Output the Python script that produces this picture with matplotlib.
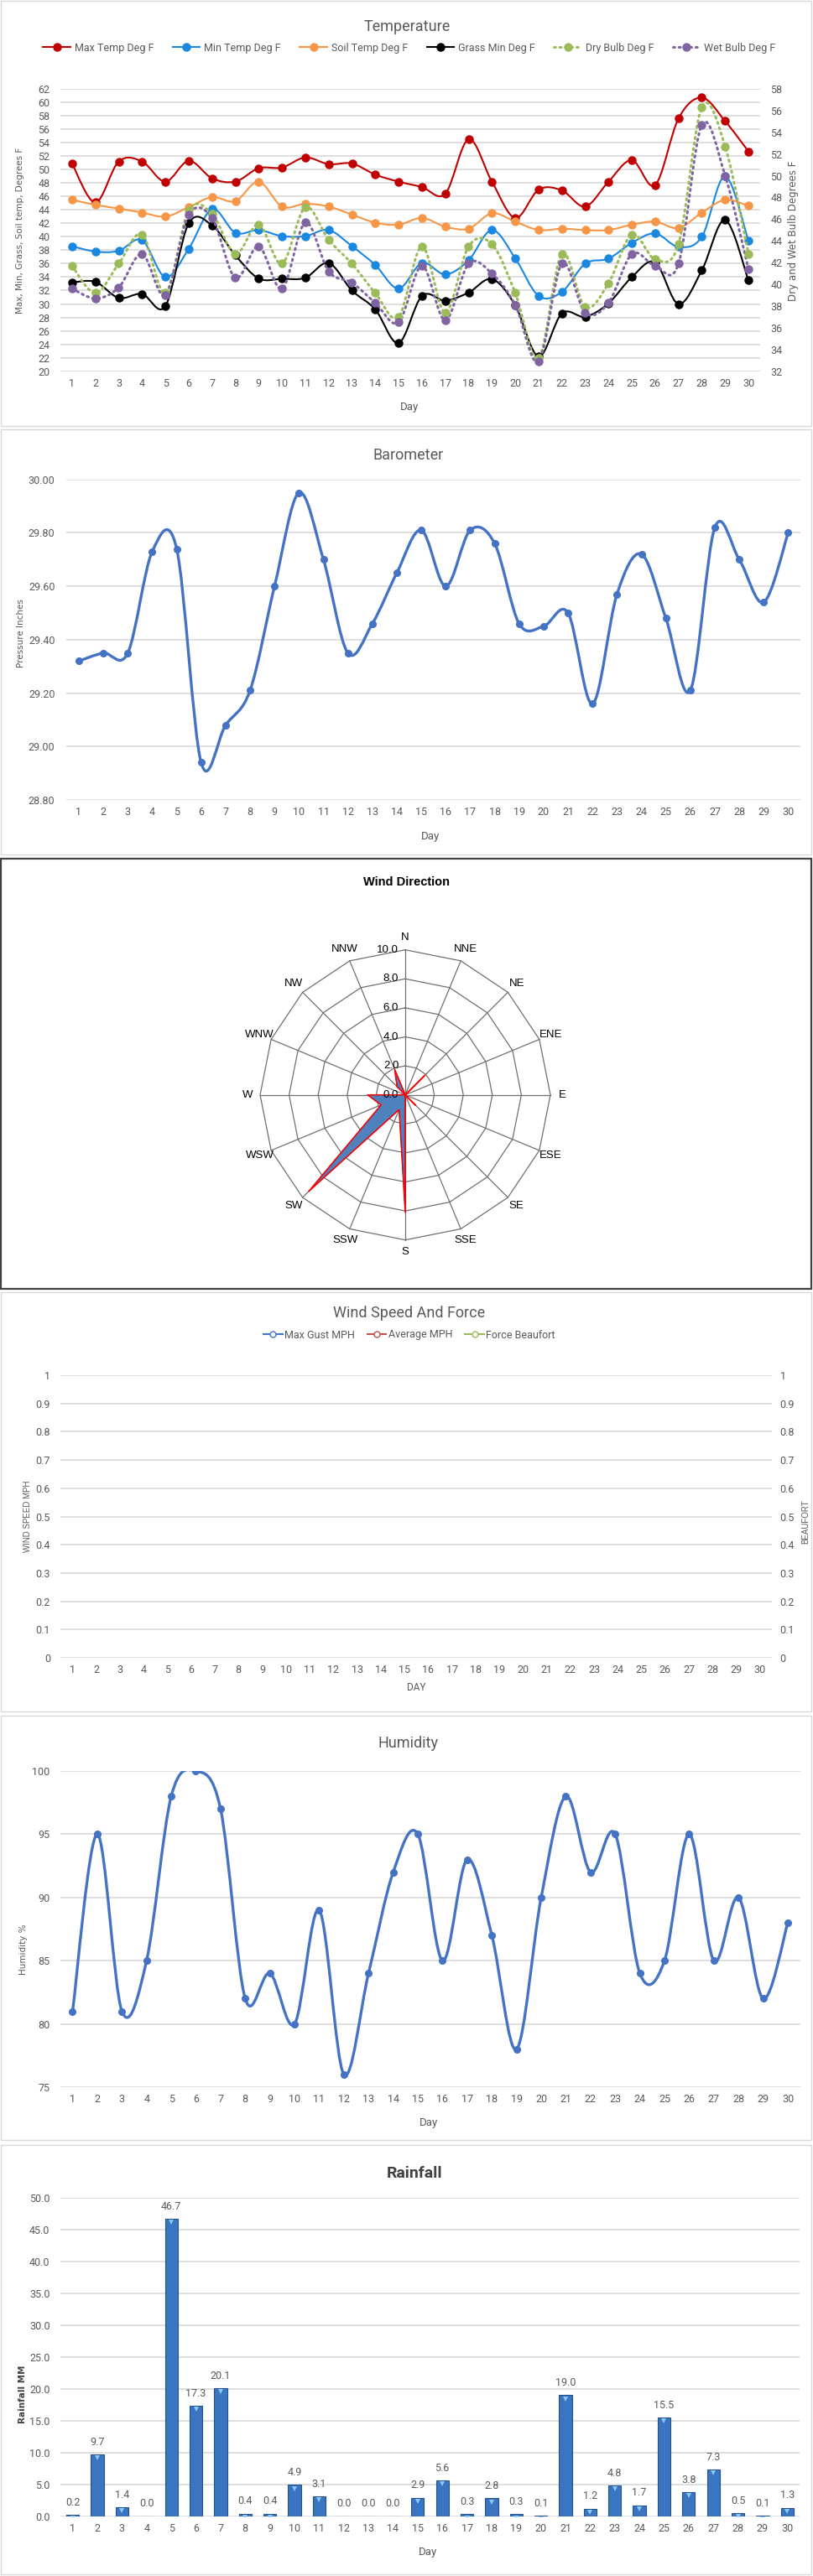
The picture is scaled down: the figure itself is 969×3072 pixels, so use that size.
import numpy as np
import matplotlib
matplotlib.use("Agg")
import matplotlib.pyplot as plt
from matplotlib.path import Path
from matplotlib.patches import PathPatch, Rectangle
from matplotlib.lines import Line2D
from matplotlib.transforms import ScaledTranslation

W, H = 969, 3072

NARROW = ["Roboto", "DejaVu Sans"]
WIDE = ["DejaVu Sans"]
ARIAL = ["Liberation Sans", "DejaVu Sans"]
plt.rcParams["font.family"] = NARROW

GREY = "#595959"
GRID = "#d9d9d9"

# =========================================================
# DATA
# =========================================================

days = list(range(1, 31))

max_temp = [50.9, 45.1, 51.2, 51.2, 48.2, 51.3, 48.7, 48.2, 50.2, 50.3,
            51.8, 50.8, 50.9, 49.25, 48.2, 47.4, 46.4, 54.5, 48.2, 42.8,
            47.0, 46.9, 44.5, 48.2, 51.4, 47.7, 57.6, 60.7, 57.2, 52.7]
min_temp = [38.6, 37.8, 37.9, 39.5, 34.0, 38.2, 44.1, 40.6, 41.0, 40.1,
            40.1, 41.0, 38.6, 35.8, 32.3, 36.1, 34.4, 36.5, 41.0, 36.8,
            31.2, 31.8, 36.0, 36.75, 39.1, 40.5, 38.5, 40.0, 49.0, 39.4]
soil_temp = [45.5, 44.75, 44.2, 43.6, 43.0, 44.4, 45.9, 45.3, 48.2, 44.5,
             44.9, 44.5, 43.3, 42.1, 41.8, 42.8, 41.5, 41.2, 43.5, 42.25,
             41.0, 41.2, 41.0, 41.0, 41.8, 42.25, 41.3, 43.6, 45.5, 44.6]
grass_min = [33.2, 33.3, 30.9, 31.5, 29.7, 42.0, 41.7, 37.25, 33.8, 33.75,
             33.9, 36.1, 32.0, 29.2, 24.2, 31.2, 30.5, 31.7, 33.7, 29.8,
             22.2, 28.6, 28.1, 30.1, 34.0, 36.2, 30.0, 35.0, 42.5, 33.5]
dry_bulb = [41.7, 39.2, 41.9, 44.6, 39.2, 46.8, 46.5, 42.8, 45.5, 41.9,
            47.1, 44.1, 41.9, 39.2, 37.0, 43.5, 37.4, 43.5, 43.7, 39.2,
            33.2, 42.8, 37.9, 40.1, 44.6, 42.3, 43.7, 56.3, 52.7, 42.8]
wet_bulb = [39.6, 38.7, 39.7, 42.8, 39.0, 46.4, 46.1, 40.6, 43.5, 39.6,
            45.7, 41.2, 40.15, 38.3, 36.5, 41.7, 36.7, 41.9, 41.0, 38.1,
            32.9, 41.9, 37.4, 38.3, 42.8, 41.7, 41.9, 54.7, 50.0, 41.4]

pressure = [29.32, 29.35, 29.35, 29.73, 29.74, 28.94, 29.08, 29.21, 29.60, 29.95,
            29.70, 29.35, 29.46, 29.65, 29.81, 29.60, 29.81, 29.76, 29.46, 29.45,
            29.50, 29.16, 29.57, 29.72, 29.48, 29.21, 29.82, 29.70, 29.54, 29.80]

directions = ["N", "NNE", "NE", "ENE", "E", "ESE", "SE", "SSE",
              "S", "SSW", "SW", "WSW", "W", "WNW", "NW", "NNW"]
dir_count = [0, 0, 0, 0, 0, 0, 0, 0, 8.1, 1.1, 9.4, 1.8, 2.6, 0, 0.8, 1.9]
dir_line = [0, 0, 1.9, 0, 0, 0, 1.0, 0, 8.1, 1.1, 9.4, 1.8, 2.6, 0, 0.8, 1.9]
radar_rings = [2, 4, 6, 8, 10]

max_gust = []
avg_mph = []
beaufort = []

humidity = [81, 95, 81, 85, 98, 100, 97, 82, 84, 80,
            89, 76, 84, 92, 95, 85, 93, 87, 78, 90,
            98, 92, 95, 84, 85, 95, 85, 90, 82, 88]

rainfall = [0.2, 9.7, 1.4, 0.0, 46.7, 17.3, 20.1, 0.4, 0.4, 4.9,
            3.1, 0.0, 0.0, 0.0, 2.9, 5.6, 0.3, 2.8, 0.3, 0.1,
            19.0, 1.2, 4.8, 1.7, 15.5, 3.8, 7.3, 0.5, 0.1, 1.3]

# =========================================================
# HELPERS
# =========================================================

fig = plt.figure(figsize=(W / 100, H / 100), dpi=100)


def add_ax(x0, y0, x1, y1, **kw):
    return fig.add_axes([x0 / W, 1 - y1 / H, (x1 - x0) / W, (y1 - y0) / H], **kw)


def ftext(x, y, s, **kw):
    kw.setdefault("ha", "center")
    kw.setdefault("va", "center")
    fig.text(x / W, 1 - y / H, s, **kw)


def frame(x0, y0, x1, y1, color="#d9d9d9", lw=1.0):
    fig.add_artist(Rectangle((x0 / W, 1 - y1 / H), (x1 - x0) / W, (y1 - y0) / H,
                             transform=fig.transFigure, fill=False,
                             edgecolor=color, linewidth=lw))


def smooth(ax, x, y, color, lw, ls="-", zorder=2):
    # excel style smoothed line (bezier through the points)
    pts = np.column_stack([x, y]).astype(float)
    n = len(pts)
    verts = [pts[0]]
    codes = [Path.MOVETO]
    for i in range(n - 1):
        p0 = pts[max(i - 1, 0)]
        p1 = pts[i]
        p2 = pts[i + 1]
        p3 = pts[min(i + 2, n - 1)]
        verts += [p1 + (p2 - p0) / 6, p2 - (p3 - p1) / 6, p2]
        codes += [Path.CURVE4] * 3
    ax.add_patch(PathPatch(Path(verts, codes), facecolor="none", edgecolor=color,
                           linewidth=lw, linestyle=ls, capstyle="round",
                           zorder=zorder))


def style(ax, ylim, yticks, fmt, pad_y=9):
    ax.set_xlim(0.5, 30.5)
    ax.set_ylim(*ylim)
    ax.set_xticks(days)
    ax.set_yticks(yticks)
    ax.set_yticklabels([fmt.format(v) for v in yticks])
    ax.grid(axis="y", color=GRID, linewidth=1.2)
    ax.set_axisbelow(True)
    for s in ax.spines.values():
        s.set_visible(False)
    ax.tick_params(axis="both", length=0, colors=GREY, labelsize=9)
    ax.tick_params(axis="y", pad=pad_y)
    ax.tick_params(axis="x", pad=6)


# =========================================================
# TEMPERATURE
# =========================================================

frame(1, 1, 967, 508)
ax = add_ax(72, 106, 906, 442.7)
style(ax, (20, 62), list(range(20, 63, 2)), "{:.0f}")
ax2 = ax.twinx()
ax2.set_ylim(32, 58)
ax2.set_yticks(list(range(32, 59, 2)))
for s in ax2.spines.values():
    s.set_visible(False)
ax2.tick_params(axis="y", length=0, colors=GREY, labelsize=9, pad=9)

temp_series = [
    (ax, max_temp, "#c00000", "-"),
    (ax, min_temp, "#1a88e0", "-"),
    (ax, soil_temp, "#f79646", "-"),
    (ax, grass_min, "#000000", "-"),
    (ax2, dry_bulb, "#9bbb59", (0, (0.6, 1.6))),
    (ax2, wet_bulb, "#8064a2", (0, (0.6, 1.6))),
]
for a, vals, c, ls in temp_series:
    lw = 2.2 if ls != "-" else 1.5
    smooth(a, days, vals, c, lw, ls)
    a.plot(days, vals, "o", color=c, ms=6.5, zorder=3)

temp_labels = ["Max Temp Deg F", "Min Temp Deg F", "Soil Temp Deg F",
               "Grass Min Deg F", "Dry Bulb Deg F", "Wet Bulb Deg F"]
handles = []
for (a, vals, c, ls), lab in zip(temp_series, temp_labels):
    handles.append(Line2D([0], [0], color=c, lw=2.2 if ls != "-" else 1.5,
                          linestyle=ls, marker="o", ms=6.5, label=lab,
                          dash_capstyle="round"))
ax.legend(handles=handles, loc="center", ncol=6, frameon=False,
          bbox_to_anchor=(488 / W, 1 - 57 / H), bbox_transform=fig.transFigure,
          fontsize=9, labelcolor=GREY, handlelength=2.6, columnspacing=1.8,
          handletextpad=0.4)

ftext(485, 32, "Temperature", fontsize=13, color=GREY)
ftext(488, 486, "Day", fontsize=9.5, color=GREY)
ftext(24, 275, "Max, Min, Grass, Soil temp, Degrees F", rotation=90,
      fontsize=7.5, color=GREY, family=WIDE)
ftext(946, 275, "Dry and Wet Bulb Degrees F", rotation=90, fontsize=8.5,
      color=GREY, family=WIDE)

# =========================================================
# BAROMETER
# =========================================================

frame(1, 512, 967, 1019)
ax = add_ax(79.4, 571.7, 954, 954)
style(ax, (28.8, 30.0), [28.8, 29.0, 29.2, 29.4, 29.6, 29.8, 30.0], "{:.2f}",
      pad_y=10)
smooth(ax, days, pressure, "#4472c4", 2.4)
ax.plot(days, pressure, "o", color="#4472c4", ms=5.5, zorder=3)
ftext(487, 543, "Barometer", fontsize=13, color=GREY)
ftext(513, 997, "Day", fontsize=9.5, color=GREY)
ftext(25, 755, "Pressure Inches", rotation=90, fontsize=7.5, color=GREY,
      family=WIDE)

# =========================================================
# WIND DIRECTION
# =========================================================

frame(1, 1024, 966.5, 1537, color="#404040", lw=1.6)
cx, cy, rad = 483, 1305.7, 173
half = 250
ax = add_ax(cx - half, cy - half, cx + half, cy + half)
lim = half / rad * 10
ax.set_xlim(-lim, lim)
ax.set_ylim(-lim, lim)
ax.set_aspect("equal")
ax.axis("off")

theta = np.deg2rad(np.arange(len(directions)) * 22.5)
for r in radar_rings:
    xs = np.append(r * np.sin(theta), 0)
    ys = np.append(r * np.cos(theta), 0)
    xs[-1], ys[-1] = xs[0], ys[0]
    ax.plot(xs, ys, color="#707070", lw=0.9, zorder=1)
for t in theta:
    ax.plot([0, 10 * np.sin(t)], [0, 10 * np.cos(t)], color="#707070", lw=0.9,
            zorder=1)

vals = np.array(dir_count)
ax.fill(vals * np.sin(theta), vals * np.cos(theta), facecolor="#4f81bd",
        edgecolor="#203864", lw=0.6, zorder=2)
vals = np.array(dir_line + dir_line[:1])
th = np.append(theta, theta[0])
ax.plot(vals * np.sin(th), vals * np.cos(th), color="#ff0000", lw=1.1, zorder=3)

for r in [0] + radar_rings:
    ax.text(-0.45, r, f"{r:.1f}", ha="right", va="center", fontsize=9.5,
            family=ARIAL, color="#000000", zorder=4)
for t, name in zip(theta, directions):
    ax.text(10.85 * np.sin(t), 10.85 * np.cos(t), name, ha="center",
            va="center", fontsize=9.5, family=ARIAL, color="#000000")

ftext(485, 1052, "Wind Direction", fontsize=10.5, fontweight="bold",
      family=ARIAL, color="#000000")

# =========================================================
# WIND SPEED AND FORCE
# =========================================================

frame(1, 1541, 967, 2041)
ax = add_ax(72.4, 1640, 920, 1977)
style(ax, (0, 1), [round(0.1 * i, 1) for i in range(11)], "{:g}")
ax2 = ax.twinx()
ax2.set_ylim(0, 1)
ax2.set_yticks([round(0.1 * i, 1) for i in range(11)])
ax2.set_yticklabels(["{:g}".format(round(0.1 * i, 1)) for i in range(11)])
for s in ax2.spines.values():
    s.set_visible(False)
ax2.tick_params(axis="y", length=0, colors=GREY, labelsize=9, pad=7)

wind_series = [(max_gust, "#4472c4", "Max Gust MPH"),
               (avg_mph, "#c0504d", "Average MPH"),
               (beaufort, "#9bbb59", "Force Beaufort")]
handles = []
for vals, c, lab in wind_series:
    ax.plot(days[:len(vals)], vals, color=c, marker="o", mfc="white")
    handles.append(Line2D([0], [0], color=c, lw=1.5, marker="o", ms=5,
                          mfc="white", label=lab))
ax.legend(handles=handles, loc="center", ncol=3, frameon=False,
          bbox_to_anchor=(488 / W, 1 - 1592 / H), bbox_transform=fig.transFigure,
          fontsize=9, labelcolor=GREY, handlelength=1.8, columnspacing=1.2,
          handletextpad=0.2)
ftext(488, 1566, "Wind Speed And Force", fontsize=13, color=GREY)
ftext(496, 2012, "DAY", fontsize=8.5, color=GREY)
ftext(33, 1808, "WIND SPEED MPH", rotation=90, fontsize=7, color=GREY,
      family=ARIAL)
ftext(960, 1815, "BEAUFORT", rotation=90, fontsize=7, color=GREY,
      family=ARIAL)

# =========================================================
# HUMIDITY
# =========================================================

frame(1, 2046, 967, 2552)
ax = add_ax(71.8, 2112, 953.7, 2489)
style(ax, (75, 100), [75, 80, 85, 90, 95, 100], "{:.0f}")
smooth(ax, days, humidity, "#4472c4", 2.4)
ax.plot(days, humidity, "o", color="#4472c4", ms=5.5, zorder=3)
ftext(487, 2079, "Humidity", fontsize=13, color=GREY)
ftext(511, 2532, "Day", fontsize=9.5, color=GREY)
ftext(28, 2325, "Humidity %", rotation=90, fontsize=7.5, color=GREY,
      family=WIDE)

# =========================================================
# RAINFALL
# =========================================================

frame(1, 2558, 967, 3070)
ax = add_ax(72, 2621, 953, 3000.7)
style(ax, (0, 50), list(range(0, 51, 5)), "{:.1f}")
ax.bar(days, rainfall, width=0.52, color="#3a75c2", edgecolor="#264f8c",
       linewidth=0.8, zorder=2)
shift = ScaledTranslation(0, -3 / 72, fig.dpi_scale_trans)
tops = [v for v in rainfall if v > 0]
top_days = [d for d, v in zip(days, rainfall) if v > 0]
ax.plot(top_days, tops, "v", color="#8cc8f5", ms=4.5, mew=0,
        transform=ax.transData + shift, zorder=3)
for d, v in zip(days, rainfall):
    ax.annotate(f"{v:.1f}", (d, v), xytext=(0, 6), textcoords="offset points",
                ha="center", va="bottom", fontsize=9, color=GREY)
ftext(494, 2592, "Rainfall", fontsize=14, fontweight="bold", color="#404040")
ftext(510, 3043, "Day", fontsize=9.5, color=GREY)
ftext(27, 2855, "Rainfall MM", rotation=90, fontsize=7.5, color="#404040",
      fontweight="bold", family=WIDE)

fig.savefig("out.png", dpi=100)
